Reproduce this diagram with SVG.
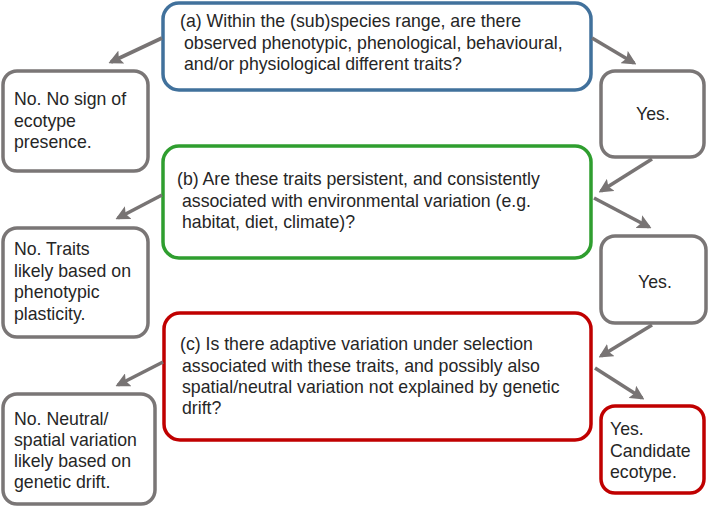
<svg xmlns="http://www.w3.org/2000/svg" width="709" height="508" viewBox="0 0 709 508">
<defs>
<style>
.box{fill:#fff;stroke-width:3.5}
.q1{stroke:#41719c}.q2{stroke:#2f9e2f}.q3{stroke:#c00000}.g{stroke:#7a7676}.r{stroke:#c00000}
text{font-family:"Liberation Sans",Arial,sans-serif;font-size:17.7px;fill:#262626}
.c line{stroke:#787474;stroke-width:3.6;marker-end:url(#ah)}
</style>
<marker id="ah" viewBox="0 0 10 10" refX="8" refY="5" markerWidth="4" markerHeight="4" orient="auto" markerUnits="strokeWidth">
<path d="M0,0 L10,5 L0,10 L2,5 z" fill="#787474"/>
</marker>
</defs>
<rect width="709" height="508" fill="#fff"/>
<g id="nodeA">
<rect class="box q1" x="163" y="3" width="428" height="87" rx="16"/>
<text x="180" y="27">(a) Within the (sub)species range, are there</text>
<text x="184" y="49">observed phenotypic, phenological, behavioural,</text>
<text x="184" y="70">and/or physiological different traits?</text>
</g>
<g id="noA">
<rect class="box g" x="3" y="71" width="145" height="100" rx="14"/>
<text x="14" y="105">No. No sign of</text>
<text x="14" y="127">ecotype</text>
<text x="14" y="148">presence.</text>
</g>
<g id="yesA">
<rect class="box g" x="601" y="71" width="103" height="86" rx="14"/>
<text x="653" y="120" text-anchor="middle">Yes.</text>
</g>
<g id="nodeB">
<rect class="box q2" x="163" y="146" width="428" height="112" rx="16"/>
<text x="177" y="185">(b) Are these traits persistent, and consistently</text>
<text x="182" y="207">associated with environmental variation (e.g.</text>
<text x="182" y="228">habitat, diet, climate)?</text>
</g>
<g id="noB">
<rect class="box g" x="3" y="228" width="145" height="109" rx="14"/>
<text x="14" y="255">No. Traits</text>
<text x="14" y="277">likely based on</text>
<text x="14" y="298">phenotypic</text>
<text x="14" y="320">plasticity.</text>
</g>
<g id="yesB">
<rect class="box g" x="601" y="236" width="105" height="87" rx="14"/>
<text x="655" y="288" text-anchor="middle">Yes.</text>
</g>
<g id="nodeC">
<rect class="box q3" x="164" y="313" width="427" height="127" rx="16"/>
<text x="180" y="350">(c) Is there adaptive variation under selection</text>
<text x="182" y="372">associated with these traits, and possibly also</text>
<text x="182" y="393">spatial/neutral variation not explained by genetic</text>
<text x="182" y="414">drift?</text>
</g>
<g id="noC">
<rect class="box g" x="3" y="394" width="152" height="110" rx="14"/>
<text x="14" y="425">No. Neutral/</text>
<text x="14" y="446">spatial variation</text>
<text x="14" y="467">likely based on</text>
<text x="14" y="488">genetic drift.</text>
</g>
<g id="yesC">
<rect class="box r" x="601" y="406" width="103" height="87" rx="14"/>
<text x="610" y="435">Yes.</text>
<text x="610" y="457">Candidate</text>
<text x="610" y="478">ecotype.</text>
</g>
<g id="connectors" class="c">
<line x1="162" y1="38" x2="111" y2="62"/>
<line x1="592" y1="38" x2="634" y2="63"/>
<line x1="652" y1="159" x2="601" y2="191"/>
<line x1="162" y1="195" x2="118" y2="218"/>
<line x1="594" y1="198" x2="649" y2="227"/>
<line x1="652" y1="325" x2="601" y2="356"/>
<line x1="163" y1="362" x2="118" y2="385"/>
<line x1="595" y1="368" x2="642" y2="398"/>
</g>
</svg>
